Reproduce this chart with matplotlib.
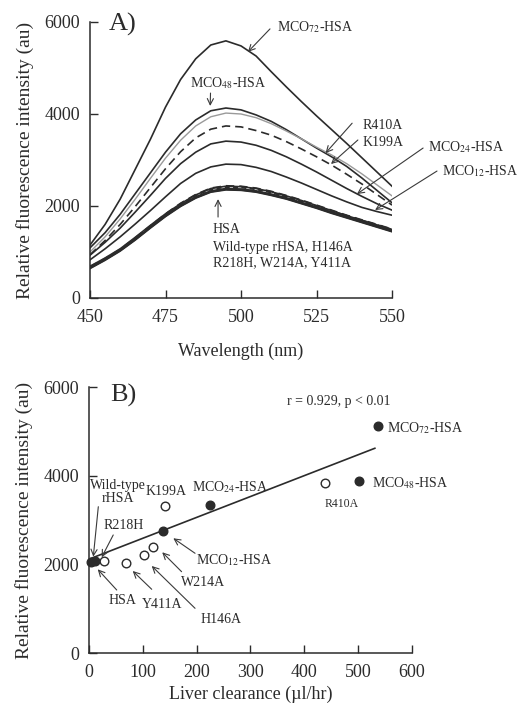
import matplotlib
matplotlib.use("Agg")
import matplotlib.pyplot as plt
import numpy as np

plt.rcParams['font.family'] = ['Liberation Serif', 'DejaVu Serif']
plt.rcParams['mathtext.fontset'] = 'stix'

# ---------------- Panel A data ----------------
wavelength = [450, 455, 460, 465, 470, 475, 480, 485, 490, 495, 500,
              505, 510, 515, 520, 525, 530, 535, 540, 545, 550]
mco72 = [1150, 1600, 2150, 2800, 3450, 4150, 4750, 5200, 5500, 5590, 5480,
         5260, 4920, 4590, 4270, 3960, 3660, 3360, 3050, 2740, 2430]
mco48 = [1090, 1420, 1820, 2270, 2720, 3170, 3570, 3870, 4070, 4130, 4090,
         3980, 3840, 3660, 3460, 3260, 3070, 2860, 2610, 2340, 2070]
r410a = [1000, 1330, 1720, 2150, 2600, 3040, 3430, 3740, 3940, 4020, 4000,
         3920, 3790, 3630, 3460, 3280, 3110, 2920, 2700, 2460, 2220]
k199a = [940, 1250, 1600, 1990, 2400, 2810, 3180, 3480, 3670, 3740, 3720,
         3640, 3540, 3400, 3240, 3070, 2890, 2690, 2480, 2250, 2020]
mco24 = [930, 1210, 1520, 1870, 2230, 2600, 2920, 3170, 3350, 3410, 3390,
         3320, 3210, 3070, 2910, 2740, 2560, 2380, 2210, 2050, 1910]
mco12 = [830, 1070, 1330, 1610, 1900, 2200, 2490, 2710, 2850, 2910, 2900,
         2840, 2750, 2630, 2500, 2360, 2220, 2090, 1970, 1880, 1800]
hsa = [650, 830, 1030, 1270, 1530, 1780, 2000, 2180, 2310, 2360, 2350,
       2310, 2240, 2160, 2060, 1960, 1850, 1750, 1650, 1550, 1450]
wt_rhsa = [680, 860, 1060, 1310, 1570, 1830, 2060, 2250, 2390, 2440, 2430,
           2390, 2320, 2230, 2130, 2020, 1910, 1800, 1700, 1600, 1500]
h146a = [660, 840, 1040, 1280, 1540, 1800, 2020, 2200, 2330, 2380, 2370,
         2330, 2260, 2180, 2080, 1980, 1870, 1770, 1670, 1570, 1470]
r218h = [670, 850, 1050, 1300, 1560, 1810, 2040, 2230, 2360, 2410, 2400,
         2360, 2290, 2200, 2100, 2000, 1890, 1790, 1690, 1590, 1490]
w214a = [690, 870, 1070, 1320, 1580, 1830, 2050, 2240, 2380, 2430, 2420,
         2380, 2310, 2220, 2120, 2010, 1900, 1790, 1690, 1590, 1490]
y411a = [640, 820, 1020, 1260, 1520, 1770, 1990, 2170, 2300, 2350, 2340,
         2300, 2230, 2150, 2050, 1950, 1840, 1740, 1640, 1540, 1440]

# ---------------- Panel B data ----------------
protein = ['HSA', 'Wild-type rHSA', 'R218H', 'Y411A', 'H146A', 'W214A',
           'MCO12-HSA', 'K199A', 'MCO24-HSA', 'R410A', 'MCO48-HSA', 'MCO72-HSA']
clearance = [3, 12, 27, 69, 103, 119, 137, 142, 225, 438, 502, 537]
fluorescence = [2060, 2070, 2080, 2040, 2200, 2380, 2750, 3320, 3340, 3830, 3870, 5130]
is_filled = [True, True, False, False, False, False, True, False, True, False, True, True]
fit_x = [4, 531]
fit_intercept = 2117
fit_slope = 4.71

INK = '#2b2b2b'
ARR = dict(arrowstyle='->', lw=0.8, color='#3a3a3a', mutation_scale=11,
           shrinkA=0, shrinkB=0)

fig = plt.figure(figsize=(5.30, 7.04), dpi=100)
W, H = 530, 704


def axes_px(left, top, right, bottom):
    return fig.add_axes([left / W, 1 - bottom / H, (right - left) / W, (bottom - top) / H])


def style(ax):
    for s in ['top', 'right']:
        ax.spines[s].set_visible(False)
    for s in ['left', 'bottom']:
        ax.spines[s].set_color(INK)
        ax.spines[s].set_linewidth(1.1)
    ax.tick_params(direction='in', length=6, width=1.0, color=INK,
                   labelsize=13, labelcolor=INK)
    ax.tick_params(axis='x', pad=8)
    ax.tick_params(axis='y', pad=7)


# ================= Panel A =================
axA = axes_px(90, 22, 392, 298)
style(axA)
solid = dict(color=INK, lw=1.2)
axA.plot(wavelength, mco72, **solid)
axA.plot(wavelength, mco48, **solid)
axA.plot(wavelength, r410a, color='#9a9a9a', lw=1.0)
axA.plot(wavelength, k199a, color=INK, lw=1.2, dashes=(5, 3))
axA.plot(wavelength, mco24, **solid)
axA.plot(wavelength, mco12, **solid)
axA.plot(wavelength, hsa, **solid)
axA.plot(wavelength, wt_rhsa, color=INK, lw=1.2, dashes=(5, 3))
axA.plot(wavelength, h146a, **solid)
axA.plot(wavelength, r218h, color=INK, lw=1.2, dashes=(3, 2))
axA.plot(wavelength, w214a, **solid)
axA.plot(wavelength, y411a, **solid)

axA.set_xlim(450, 550)
axA.set_ylim(0, 6000)
axA.set_xticks([450, 475, 500, 525, 550])
axA.set_yticks([0, 2000, 4000, 6000])
axA.set_xlabel('Wavelength (nm)', fontsize=13, color=INK, labelpad=12)
axA.set_ylabel('Relative fluorescence intensity (au)', fontsize=14, color=INK, labelpad=8)
axA.text(0.063, 0.99, 'A)', transform=axA.transAxes, fontsize=19, color=INK,
         ha='left', va='center')

fsA = 10
axA.text(511.9, 5890, r'MCO$_{72}$-HSA', fontsize=fsA, color=INK, ha='left', va='center')
axA.annotate('', xy=(502.3, 5350), xytext=(509.6, 5850), arrowprops=ARR, annotation_clip=False)
axA.text(495.7, 4675, r'MCO$_{48}$-HSA', fontsize=fsA, color=INK, ha='center', va='center')
axA.annotate('', xy=(489.8, 4175), xytext=(489.9, 4455), arrowprops=ARR, annotation_clip=False)
axA.text(540.3, 3760, 'R410A', fontsize=fsA, color=INK, ha='left', va='center')
axA.annotate('', xy=(528.0, 3150), xytext=(536.8, 3800), arrowprops=ARR, annotation_clip=False)
axA.text(540.3, 3390, 'K199A', fontsize=fsA, color=INK, ha='left', va='center')
axA.annotate('', xy=(529.8, 2913), xytext=(538.7, 3435), arrowprops=ARR, annotation_clip=False)
axA.text(561.9, 3280, r'MCO$_{24}$-HSA', fontsize=fsA, color=INK, ha='left', va='center')
axA.annotate('', xy=(538.4, 2260), xytext=(560.3, 3260), arrowprops=ARR, annotation_clip=False)
axA.text(566.6, 2760, r'MCO$_{12}$-HSA', fontsize=fsA, color=INK, ha='left', va='center')
axA.annotate('', xy=(544.4, 1913), xytext=(564.9, 2760), arrowprops=ARR, annotation_clip=False)
axA.text(490.7, 1480, 'HSA', fontsize=fsA, color=INK, ha='left', va='center')
axA.annotate('', xy=(492.4, 2150), xytext=(492.4, 1760), arrowprops=ARR, annotation_clip=False)
axA.text(490.7, 935, 'Wild-type rHSA, H146A\nR218H, W214A, Y411A', fontsize=fsA,
         color=INK, ha='left', va='center', linespacing=1.2)

# ================= Panel B =================
axB = axes_px(89, 387, 412, 653)
style(axB)
fx = np.array(fit_x, dtype=float)
axB.plot(fx, fit_intercept + fit_slope * fx, color=INK, lw=1.2, zorder=2)
for xv, yv, f in zip(clearance, fluorescence, is_filled):
    axB.plot([xv], [yv], 'o', ms=6.2, mec=INK, mew=1.0,
             mfc=(INK if f else 'white'), zorder=3, clip_on=False)

axB.set_xlim(0, 600)
axB.set_ylim(0, 6000)
axB.set_xticks([0, 100, 200, 300, 400, 500, 600])
axB.set_yticks([0, 2000, 4000, 6000])
axB.set_xlabel('Liver clearance (\u00b5l/hr)', fontsize=13, color=INK, labelpad=3)
axB.set_ylabel('Relative fluorescence intensity (au)', fontsize=14, color=INK, labelpad=8)
axB.text(0.065, 0.97, 'B)', transform=axB.transAxes, fontsize=19, color=INK,
         ha='left', va='center')

fsB = 10
axB.text(368, 5663, 'r = 0.929, p < 0.01', fontsize=fsB, color=INK, ha='left', va='center')
axB.text(553, 5076, r'MCO$_{72}$-HSA', fontsize=fsB, color=INK, ha='left', va='center')
axB.text(526, 3835, r'MCO$_{48}$-HSA', fontsize=fsB, color=INK, ha='left', va='center')
axB.text(470, 3361, 'R410A', fontsize=8.5, color=INK, ha='center', va='center')
axB.text(262, 3752, r'MCO$_{24}$-HSA', fontsize=fsB, color=INK, ha='center', va='center')
axB.text(143, 3640, 'K199A', fontsize=fsB, color=INK, ha='center', va='center')
axB.text(53, 3640, 'Wild-type\nrHSA', fontsize=fsB, color=INK, ha='center', va='center',
         linespacing=1.0)
axB.annotate('', xy=(8, 2172), xytext=(17.3, 3300), arrowprops=ARR, annotation_clip=False)
axB.text(64, 2873, 'R218H', fontsize=fsB, color=INK, ha='center', va='center')
axB.annotate('', xy=(23.6, 2159), xytext=(45, 2662), arrowprops=ARR, annotation_clip=False)
axB.text(62.6, 1180, 'HSA', fontsize=fsB, color=INK, ha='center', va='center')
axB.annotate('', xy=(16.2, 1888), xytext=(51.5, 1421), arrowprops=ARR, annotation_clip=False)
axB.text(135, 1105, 'Y411A', fontsize=fsB, color=INK, ha='center', va='center')
axB.annotate('', xy=(81.2, 1850), xytext=(116.5, 1437), arrowprops=ARR, annotation_clip=False)
axB.text(244.6, 760, 'H146A', fontsize=fsB, color=INK, ha='center', va='center')
axB.annotate('', xy=(116.5, 1963), xytext=(197, 1008), arrowprops=ARR, annotation_clip=False)
axB.text(211, 1587, 'W214A', fontsize=fsB, color=INK, ha='center', va='center')
axB.annotate('', xy=(136, 2272), xytext=(172, 1834), arrowprops=ARR, annotation_clip=False)
axB.text(270, 2098, r'MCO$_{12}$-HSA', fontsize=fsB, color=INK, ha='center', va='center')
axB.annotate('', xy=(156.6, 2588), xytext=(197, 2249), arrowprops=ARR, annotation_clip=False)

fig.savefig('out.png', dpi=100, facecolor='white')
